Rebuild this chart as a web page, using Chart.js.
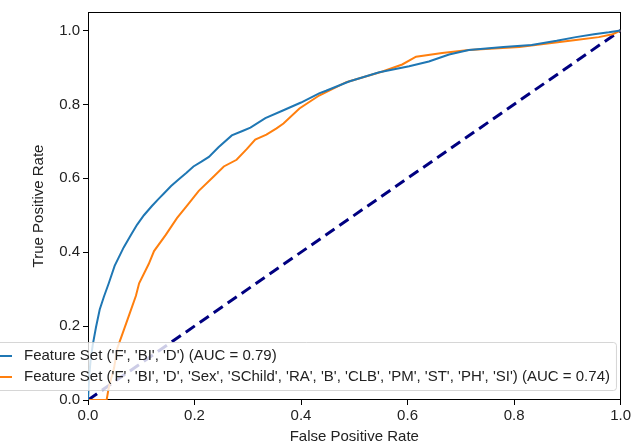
<!DOCTYPE html>
<html>
<head>
<meta charset="utf-8">
<script src="https://cdn.jsdelivr.net/npm/chart.js@4"></script>
<style>
  html, body { margin: 0; padding: 0; background: #fff; }
</style>
</head>
<body>
<canvas id="rocChart" width="633" height="447"></canvas>
<script>
// series labels and colours
const seriesLabels = [
  "Feature Set ('F', 'BI', 'D') (AUC = 0.79)",
  "Feature Set ('F', 'BI', 'D', 'Sex', 'SChild', 'RA', 'B', 'CLB', 'PM', 'ST', 'PH', 'SI') (AUC = 0.74)"
];

// ROC points (false positive rate / true positive rate)
const blueFpr = [0, 0.002, 0.005, 0.009, 0.015, 0.022, 0.03, 0.039, 0.05, 0.067, 0.08, 0.092, 0.105, 0.12, 0.133, 0.142, 0.156, 0.17, 0.185, 0.198, 0.213, 0.227, 0.245, 0.27, 0.29, 0.305, 0.333, 0.367, 0.4, 0.434, 0.447, 0.49, 0.547, 0.603, 0.64, 0.678, 0.715, 0.78, 0.833, 0.88, 0.916, 0.95, 0.978, 1.0];
const blueTpr = [0, 0.06, 0.11, 0.15, 0.197, 0.245, 0.28, 0.316, 0.363, 0.413, 0.445, 0.474, 0.5, 0.525, 0.545, 0.558, 0.579, 0.597, 0.615, 0.632, 0.645, 0.658, 0.684, 0.716, 0.728, 0.737, 0.763, 0.784, 0.805, 0.83, 0.837, 0.862, 0.887, 0.903, 0.916, 0.935, 0.947, 0.955, 0.961, 0.972, 0.982, 0.99, 0.995, 1.0];

const orangeFpr = [0, 0.035, 0.039, 0.049, 0.055, 0.064, 0.077, 0.09, 0.096, 0.114, 0.124, 0.146, 0.167, 0.186, 0.208, 0.236, 0.255, 0.279, 0.298, 0.314, 0.335, 0.354, 0.367, 0.397, 0.434, 0.485, 0.553, 0.59, 0.616, 0.665, 0.715, 0.81, 0.916, 0.959, 0.985, 1.0];
const orangeTpr = [0, 0, 0.034, 0.087, 0.14, 0.176, 0.229, 0.282, 0.316, 0.368, 0.403, 0.447, 0.492, 0.526, 0.566, 0.605, 0.632, 0.65, 0.679, 0.705, 0.718, 0.735, 0.748, 0.789, 0.824, 0.86, 0.889, 0.908, 0.929, 0.939, 0.947, 0.955, 0.974, 0.982, 0.99, 1.0];

// chance line
const diagFpr = [0, 1];
const diagTpr = [0, 1];

const xTicks = [0, 0.2, 0.4, 0.6, 0.8, 1.0];
const yTicks = [0, 0.2, 0.4, 0.6, 0.8, 1.0];

const FONT = '"Liberation Sans", Arial, sans-serif';
const FONT_SIZE = 15;
const toPoints = (xs, ys) => xs.map((x, i) => ({ x: x, y: ys[i] }));

// black box round the plot area, like matplotlib spines
const framePlugin = {
  id: 'frame',
  beforeDatasetsDraw(chart) {
    const { ctx, chartArea: a } = chart;
    ctx.save();
    ctx.strokeStyle = '#000';
    ctx.lineWidth = 1;
    ctx.strokeRect(Math.round(a.left) + 0.5, Math.round(a.top) + 0.5,
                   Math.round(a.right - a.left) - 1, Math.round(a.bottom - a.top) - 1);
    ctx.restore();
  }
};

// semi-transparent legend sitting over the lower left of the plot
const legendPlugin = {
  id: 'mplLegend',
  afterDraw(chart) {
    const { ctx } = chart;
    const items = chart.data.datasets.filter(d => d.label);
    ctx.save();
    ctx.font = FONT_SIZE + 'px ' + FONT;
    const textX = 24;
    const widths = items.map(d => ctx.measureText(d.label).width);
    const boxL = -20, boxT = 342, boxB = 390;
    const boxR = textX + Math.max(...widths) + 6;
    ctx.fillStyle = 'rgba(255,255,255,0.8)';
    ctx.strokeStyle = 'rgba(204,204,204,0.8)';
    ctx.lineWidth = 1;
    ctx.beginPath();
    ctx.roundRect(boxL + 0.5, boxT + 0.5, boxR - boxL, boxB - boxT, 3);
    ctx.fill();
    ctx.stroke();
    ctx.textBaseline = 'middle';
    items.forEach((d, i) => {
      const y = 356 + i * 21;
      ctx.strokeStyle = d.borderColor;
      ctx.lineWidth = 2;
      ctx.beginPath();
      ctx.moveTo(-14, y);
      ctx.lineTo(12, y);
      ctx.stroke();
      ctx.fillStyle = '#222';
      ctx.fillText(d.label, textX, y);
    });
    ctx.restore();
  }
};

new Chart(document.getElementById('rocChart'), {
  type: 'scatter',
  data: {
    datasets: [
      {
        label: seriesLabels[0],
        data: toPoints(blueFpr, blueTpr),
        borderColor: '#1f77b4',
        borderWidth: 2,
        showLine: true,
        pointRadius: 0,
        tension: 0
      },
      {
        label: seriesLabels[1],
        data: toPoints(orangeFpr, orangeTpr),
        borderColor: '#ff7f0e',
        borderWidth: 2,
        showLine: true,
        pointRadius: 0,
        tension: 0
      },
      {
        label: '',
        data: toPoints(diagFpr, diagTpr),
        borderColor: '#000080',
        borderWidth: 3,
        borderDash: [11, 6],
        showLine: true,
        pointRadius: 0
      }
    ]
  },
  options: {
    responsive: false,
    animation: false,
    devicePixelRatio: 1,
    layout: { padding: { left: 0, right: 11, top: 2, bottom: 0 } },
    plugins: {
      legend: { display: false },
      tooltip: { enabled: false }
    },
    scales: {
      x: {
        type: 'linear',
        min: 0,
        max: 1,
        afterFit: s => { s.height = 47; },
        afterBuildTicks: s => { s.ticks = xTicks.map(v => ({ value: v })); },
        border: { display: false },
        grid: { drawOnChartArea: false, drawTicks: true, tickLength: 5, tickColor: '#000' },
        ticks: {
          padding: 2,
          color: '#222',
          font: { family: FONT, size: FONT_SIZE },
          callback: v => v.toFixed(1),
          maxRotation: 0
        },
        title: {
          display: true,
          text: 'False Positive Rate',
          color: '#222',
          font: { family: FONT, size: FONT_SIZE },
          padding: { top: 0, bottom: 1 }
        }
      },
      y: {
        type: 'linear',
        min: 0,
        max: 1.05,
        afterFit: s => { s.width = 88; },
        afterBuildTicks: s => { s.ticks = yTicks.map(v => ({ value: v })); },
        border: { display: false },
        grid: { drawOnChartArea: false, drawTicks: true, tickLength: 5, tickColor: '#000' },
        ticks: {
          padding: 3,
          color: '#222',
          font: { family: FONT, size: FONT_SIZE },
          callback: v => v.toFixed(1)
        },
        title: {
          display: true,
          text: 'True Positive Rate',
          color: '#222',
          font: { family: FONT, size: FONT_SIZE },
          padding: { top: 30, bottom: 0 }
        }
      }
    }
  },
  plugins: [framePlugin, legendPlugin]
});
</script>
</body>
</html>
